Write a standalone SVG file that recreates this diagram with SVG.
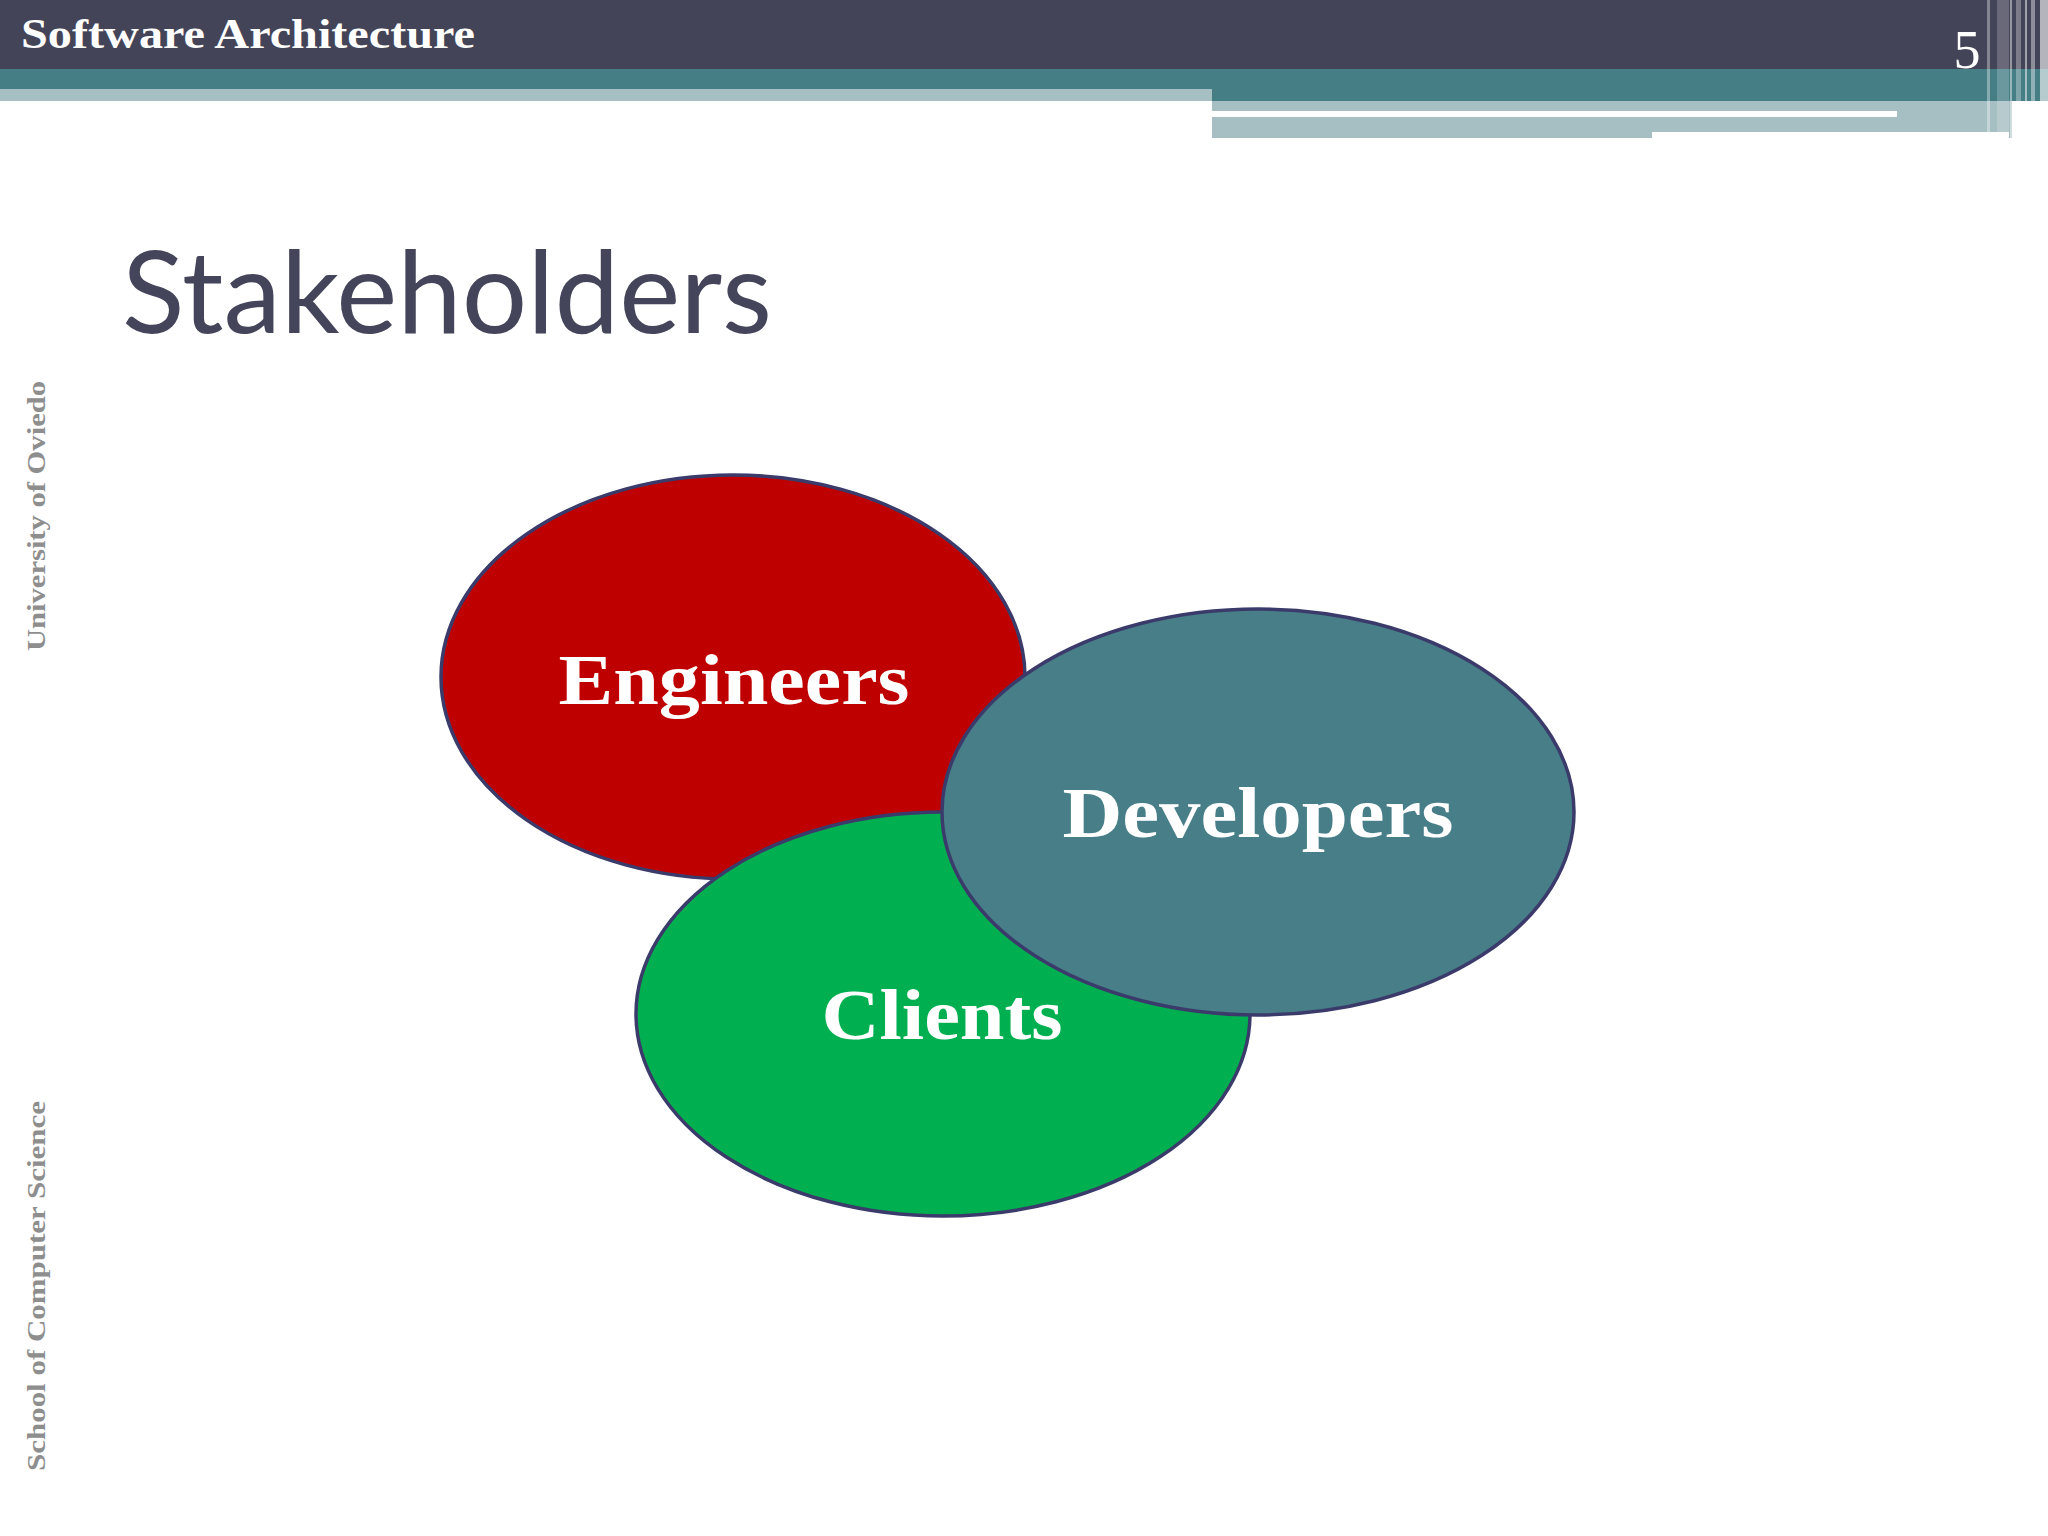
<svg xmlns="http://www.w3.org/2000/svg" width="2048" height="1536" viewBox="0 0 2048 1536">
<style>
.node ellipse{stroke:#3b3b6b;stroke-width:3.5}
.lbl{font-family:"Liberation Serif","Times New Roman",serif;font-weight:bold;fill:#ffffff;font-size:71px;text-anchor:middle}
.side{font-family:"Liberation Serif","Times New Roman",serif;font-weight:bold;fill:#8e8e8e;font-size:26px;text-anchor:middle}
</style>
<rect x="0" y="0" width="2048" height="1536" fill="#ffffff"/>
<g id="header">
<rect x="0" y="0" width="2048" height="69" fill="#444458"/>
<rect x="0" y="69" width="2048" height="32" fill="#467e86"/>
<rect x="0" y="89" width="1212" height="12" fill="#a6bfc3"/>
<rect x="1212" y="101" width="800" height="37" fill="#a6bfc3"/>
<rect x="1212" y="111" width="685" height="6" fill="#ffffff"/>
<rect x="1652" y="132" width="357" height="6" fill="#ffffff"/>
<g fill="#ffffff">
<rect x="1987" y="0" width="3" height="138" opacity="0.35"/>
<rect x="1997" y="0" width="12" height="132" opacity="0.2"/>
<rect x="2010" y="0" width="2" height="138" opacity="0.45"/>
<rect x="2016" y="0" width="5" height="138" opacity="0.3"/>
<rect x="2025" y="0" width="2" height="138" opacity="0.5"/>
<rect x="2031" y="0" width="4" height="138" opacity="0.4"/>
<rect x="2040" y="0" width="8" height="138" opacity="0.6"/>
</g>
<text x="21" y="48" font-family="Liberation Serif, Times New Roman, serif" font-weight="bold" font-size="42" fill="#ffffff" textLength="454" lengthAdjust="spacingAndGlyphs">Software Architecture</text>
<text x="1967" y="68" font-family="Liberation Serif, Times New Roman, serif" font-size="54" fill="#ffffff" text-anchor="middle">5</text>
</g>
<text id="title" x="122" y="333" font-family="Lato, Liberation Sans, sans-serif" font-size="115" fill="#44445a" textLength="650" lengthAdjust="spacingAndGlyphs">Stakeholders</text>
<g id="side-texts">
<text class="side" transform="translate(45,516) rotate(-90)" textLength="270" lengthAdjust="spacingAndGlyphs">University of Oviedo</text>
<text class="side" transform="translate(45,1286) rotate(-90)" textLength="370" lengthAdjust="spacingAndGlyphs">School of Computer Science</text>
</g>
<g id="connectors"></g>
<g id="engineers" class="node">
<ellipse cx="733" cy="677" rx="292" ry="202" fill="#bf0000"/>
<text class="lbl" x="734" y="704" textLength="351" lengthAdjust="spacingAndGlyphs">Engineers</text>
</g>
<g id="clients" class="node">
<ellipse cx="943" cy="1014" rx="307" ry="202" fill="#00b050"/>
<text class="lbl" x="942" y="1039" textLength="241" lengthAdjust="spacingAndGlyphs">Clients</text>
</g>
<g id="developers" class="node">
<ellipse cx="1258" cy="812" rx="316" ry="203" fill="#477e88"/>
<text class="lbl" x="1258" y="837" textLength="391" lengthAdjust="spacingAndGlyphs">Developers</text>
</g>
</svg>
